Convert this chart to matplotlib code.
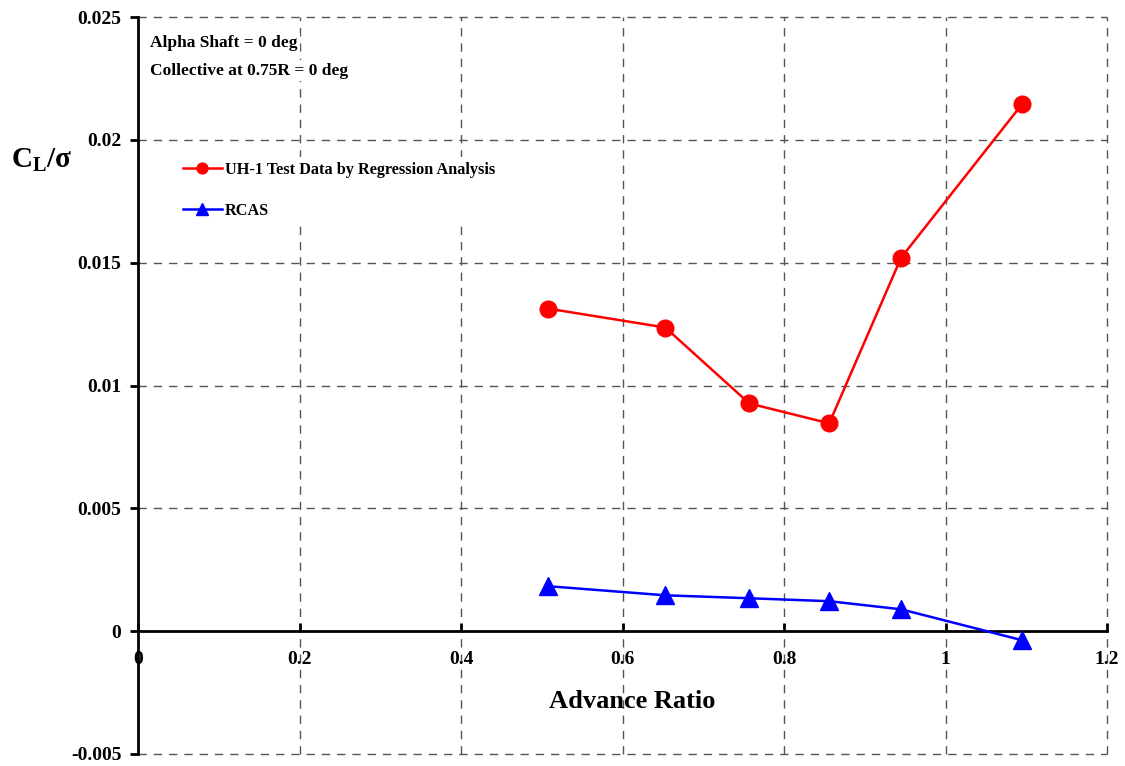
import matplotlib
matplotlib.use("Agg")
import matplotlib.pyplot as plt

# Data
adv_ratio = [0.508, 0.653, 0.757, 0.856, 0.945, 1.095]
uh1_cl = [0.01313, 0.01236, 0.00927, 0.00846, 0.0152, 0.02146]
rcas_cl = [0.00183, 0.00146, 0.00134, 0.00122, 0.00089, -0.00037]
xticks = [0, 0.2, 0.4, 0.6, 0.8, 1, 1.2]
xtick_labels = ["0", "0.2", "0.4", "0.6", "0.8", "1", "1.2"]
yticks = [-0.005, 0, 0.005, 0.01, 0.015, 0.02, 0.025]
ytick_labels = ["-0.005", "0", "0.005", "0.01", "0.015", "0.02", "0.025"]

plt.rcParams['font.family'] = ['Liberation Serif', 'DejaVu Serif']
plt.rcParams['font.weight'] = 'bold'
plt.rcParams['mathtext.fontset'] = 'custom'
plt.rcParams['mathtext.rm'] = 'Liberation Serif:bold'
plt.rcParams['mathtext.it'] = 'Liberation Serif:bold'
plt.rcParams['mathtext.bf'] = 'Liberation Serif:bold'

fig = plt.figure(figsize=(11.25, 7.66), dpi=100)
ax = fig.add_axes([138/1125, 1-754/766, (1107-138)/1125, (754-17)/766])

ax.set_xlim(0, 1.2)
ax.set_ylim(-0.005, 0.025)

ax.plot(adv_ratio, uh1_cl, color='red', lw=1.8, marker='o', ms=12,
        label='UH-1 Test Data by Regression Analysis', zorder=5, clip_on=False)
ax.plot(adv_ratio, rcas_cl, color='blue', lw=1.8, marker='^', ms=13,
        label='RCAS', zorder=5, clip_on=False)

# spines
ax.spines['top'].set_visible(False)
ax.spines['right'].set_visible(False)
ax.spines['bottom'].set_position(('data', 0))
ax.spines['bottom'].set_linewidth(2)
ax.spines['left'].set_linewidth(2)

ax.set_xticks(xticks)
ax.set_xticklabels(xtick_labels, fontsize=14, fontweight='bold')
ax.set_yticks(yticks)
ax.set_yticklabels(ytick_labels, fontsize=14, fontweight='bold')
ax.tick_params(axis='x', direction='in', length=6, width=2, pad=14)
ax.tick_params(axis='y', direction='out', length=6, width=2, pad=6)

# grid (draw manually including edges)
for xv in xticks[1:]:
    ax.axvline(xv, color='#555555', lw=1, ls=(0, (6, 5)), zorder=0, clip_on=False)
for yv in yticks:
    if yv != 0:
        ax.axhline(yv, color='#555555', lw=1, ls=(0, (6, 5)), zorder=0, clip_on=False)

bbox = dict(facecolor='white', edgecolor='none', pad=2)
ax.text(0.012, 0.975, 'Alpha Shaft = 0 deg', transform=ax.transAxes,
        fontsize=12.5, fontweight='bold', va='top', ha='left', bbox=bbox, zorder=3)
ax.text(0.012, 0.938, 'Collective at 0.75R = 0 deg', transform=ax.transAxes,
        fontsize=12.5, fontweight='bold', va='top', ha='left', bbox=bbox, zorder=3)

leg = ax.legend(loc='upper left', bbox_to_anchor=(0.041, 0.81), frameon=True,
                facecolor='white', edgecolor='none', framealpha=1, fancybox=False,
                fontsize=11.7, markerscale=0.65, handlelength=2.4, handletextpad=0.2,
                labelspacing=1.55, borderaxespad=0, borderpad=0.3)
leg.set_zorder(4)
for t in leg.get_texts():
    t.set_fontweight('bold')

fig.text(632/1125, 1-701/766, 'Advance Ratio', fontsize=19, fontweight='bold',
         ha='center', va='center')
fig.text(42/1125, 1-160/766, r'$\mathrm{C_L/σ}$', fontsize=21,
         ha='center', va='center')

fig.savefig('out.png', dpi=100)
